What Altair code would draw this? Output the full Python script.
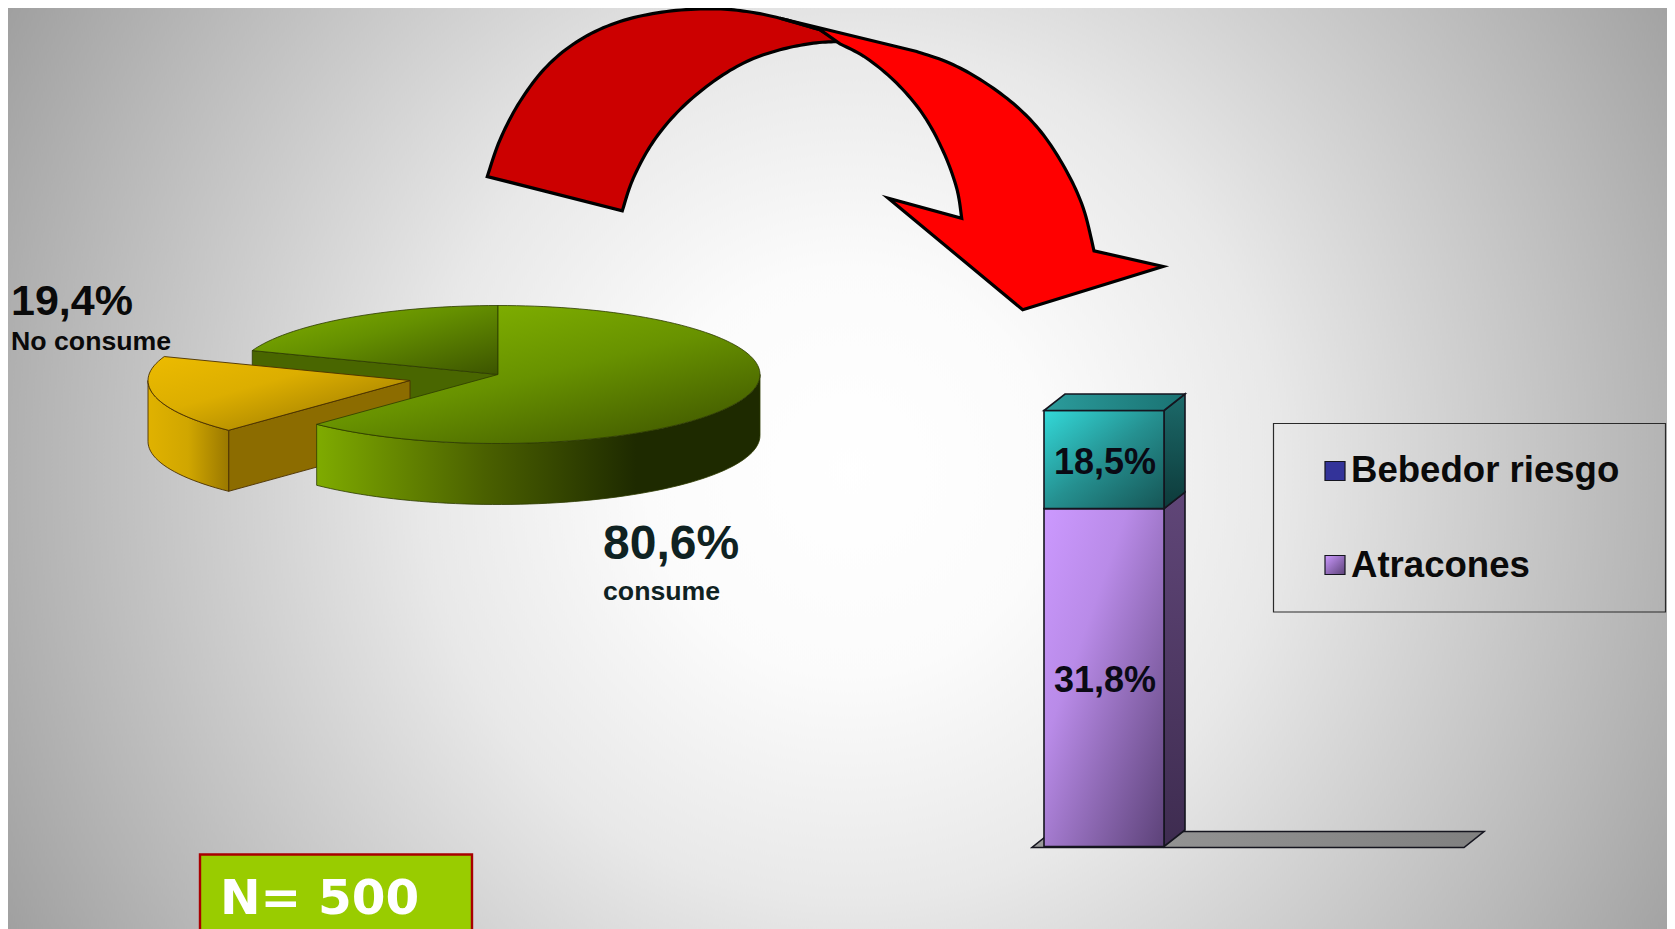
import math
import altair as alt

W, H, M = 1675, 929, 8
Y_NUDGE = 1.5

# ---- values
pie_shares = [80.6, 19.4]
pie_cut_deg = [290.3, 223.8]        # where the drawn gap opens and closes, clockwise from 12 o'clock
pie_centre = (498, 373)
pie_rx, pie_ry, pie_depth = 262, 69, 61
explode = (-88, 6)

bar_plotted = [77.5, 22.5]          # share of the drawn column height
bar_left, bar_right, bar_base, bar_top = 1044, 1164, 845, 409
bar_dx, bar_dy = 21, -16.5
floor_x = [1032, 1464, 1484, 1052]
floor_y = [846, 846, 830, 830]

arrow_dark_inner = [(622.3, 209.3), (633.3, 176.7), (653.3, 140), (680, 108), (713.3, 80), (746.7, 60),
                    (780, 48.3), (813.3, 41.7), (839.3, 40)]
arrow_dark_outer = [(820, 28.3), (780, 16.7), (746.7, 10), (713.3, 7.3), (666.7, 10), (620, 20), (580, 38.3),
                    (546.7, 65), (520, 100), (500, 138.3), (487.3, 175)]
arrow_red_outer = [(916.7, 50), (950, 61.7), (983.3, 80), (1016.7, 105), (1043.3, 133.3), (1066.7, 170),
                   (1083.3, 206.7), (1094, 249.3)]
arrow_red_head = [(1163, 265), (1022.7, 308.3), (888.3, 196.7)]
arrow_red_inner = [(961.7, 216.7), (956.7, 186.7), (943.3, 150), (923.3, 113.3), (896.7, 81.7), (866.7, 56.7),
                   (840, 42.3)]

legend_box = (1273.5, 422, 1665.5, 610.5)
legend_swatches = [(1325, 460, 1345, 479), (1325, 554, 1345, 573)]
n_box = (200, 853, 472, 960)

text_x = [11, 11, 603, 603, 1105, 1105, 1351, 1351, 220]
text_y = [313, 348, 557, 598, 472, 690, 480, 575, 912]
text_s = ["19,4%", "No consume", "80,6%", "consume", "18,5%", "31,8%", "Bebedor riesgo", "Atracones", "N= 500"]
text_size = [43, 26.7, 48, 26.7, 36, 36, 36.6, 36.6, 48.5]
text_col = ["#0a0a0a", "#0a0a0a", "#0f2222", "#0f2222", "#0a0a14", "#0a0a14", "#0a0a0a", "#0a0a0a", "#ffffff"]
text_font = ["Liberation Sans"] * 8 + ["DejaVu Sans"]
text_anchor = ["left", "left", "left", "left", "center", "center", "left", "left", "left"]


# ---- helpers
def lin(stops, x1=0, y1=0, x2=1, y2=0):
    return {"gradient": "linear", "x1": x1, "y1": y1, "x2": x2, "y2": y2,
            "stops": [{"offset": o, "color": c} for o, c in stops]}


def smooth(pts, n=10):
    out = []
    p = [pts[0]] + list(pts) + [pts[-1]]
    for i in range(1, len(p) - 2):
        p0, p1, p2, p3 = p[i - 1], p[i], p[i + 1], p[i + 2]
        for k in range(n):
            t = k / n
            out.append(tuple(
                0.5 * (2 * p1[a] + (p2[a] - p0[a]) * t
                       + (2 * p0[a] - 5 * p1[a] + 4 * p2[a] - p3[a]) * t * t
                       + (3 * p1[a] - p0[a] - 3 * p2[a] + p3[a]) * t ** 3)
                for a in (0, 1)))
    out.append(pts[-1])
    return out


def poly(pts, **mark):
    ring = [list(p) for p in pts] + [list(pts[0])]
    feat = {"type": "Feature", "properties": {},
            "geometry": {"type": "Polygon", "coordinates": [ring]}}
    return alt.Chart(alt.Data(values=[feat])).mark_geoshape(**mark).project(
        type="identity", scale=1, translate=[-M, -M + Y_NUDGE])


def rect(x0, y0, x1, y1):
    return [(x0, y0), (x1, y0), (x1, y1), (x0, y1)]


def on_rim(deg, c):
    r = math.radians(deg)
    return (c[0] + pie_rx * math.sin(r), c[1] - pie_ry * math.cos(r))


def rim(a, b, c, step=2):
    n = max(2, int(abs(b - a) / step))
    return [on_rim(a + (b - a) * i / n, c) for i in range(n + 1)]


def down(pts):
    return [(x, y + pie_depth) for x, y in pts]


layers = []

# ---- background
S = 1000
bg_cx, bg_cy = 850, 470
layers.append(poly(rect(bg_cx - S, bg_cy - S, bg_cx + S, bg_cy + S), fill={
    "gradient": "radial", "x1": .5, "y1": .5, "r1": 0, "x2": .5, "y2": .5, "r2": .5,
    "stops": [{"offset": 0, "color": "#ffffff"}, {"offset": .2, "color": "#fbfbfb"},
              {"offset": .43, "color": "#e8e8e8"}, {"offset": .8, "color": "#b6b6b6"},
              {"offset": 1, "color": "#9a9a9a"}]}, strokeWidth=0))

# ---- arrow
black = dict(stroke="#000000", strokeWidth=3.2, strokeJoin="miter", strokeMiterLimit=12)
dark_pts = smooth(arrow_dark_inner) + smooth(arrow_dark_outer)
layers.append(poly(dark_pts, fill="#cc0000", **black))
red_pts = ([arrow_dark_outer[1]] + smooth(arrow_red_outer) + arrow_red_head
           + smooth(arrow_red_inner) + [arrow_dark_outer[0]])
layers.append(poly(red_pts, fill="#ff0000", **black))

# ---- pie
a_start, a_end = pie_cut_deg
gold_c = (pie_centre[0] + explode[0], pie_centre[1] + explode[1])
g_line = dict(stroke="#2c3a00", strokeWidth=0.8)
o_line = dict(stroke="#4a3000", strokeWidth=0.9)

# inner wall of the green pie behind the gap
wall = [on_rim(a_start, pie_centre), pie_centre]
layers.append(poly(wall + down(wall[::-1]), fill="#496600", **g_line))

# exploded slice
gold_wall = [gold_c, on_rim(a_end, gold_c)]
layers.append(poly(gold_wall + down(gold_wall[::-1]), fill="#8c6c00", **o_line))
gold_side = rim(a_end, 270, gold_c)
layers.append(poly(gold_side + down(gold_side[::-1]),
                   fill=lin([(0, "#e0b200"), (.5, "#d0a600"), (1, "#9a7800")]), **o_line))
layers.append(poly([gold_c] + rim(a_end, a_start, gold_c),
                   fill=lin([(0, "#ecbb00"), (.4, "#dcae00"), (1, "#8f7000")], 0, 0, 1, 1), **o_line))

# green pie
green_side = rim(90, a_end, pie_centre)
layers.append(poly(green_side + down(green_side[::-1]),
                   fill=lin([(0, "#7fab00"), (.38, "#4a6000"), (.72, "#1e2a00"), (1, "#1e2a00")]), **g_line))
layers.append(poly([pie_centre] + rim(a_start, 360, pie_centre),
                   fill=lin([(0, "#84b400"), (.45, "#659000"), (1, "#3c5400")], 0, 0, 1, 1), **g_line))
layers.append(poly([pie_centre] + rim(0, a_end, pie_centre),
                   fill=lin([(0, "#86b800"), (.5, "#689200"), (1, "#3e5400")], .1, 0, .9, 1), **g_line))

# ---- column
dark = dict(stroke="#15151f", strokeWidth=1.6)
layers.append(poly(list(zip(floor_x, floor_y)),
                   fill=lin([(0, "#9a9a9a"), (1, "#808080")]), **dark))
px = (bar_base - bar_top) / sum(bar_plotted)
y_mid = bar_base - bar_plotted[0] * px
side_fill = [lin([(0, "#604678"), (1, "#3e2c50")], 0, 0, 0, 1),
             lin([(0, "#1c6a6a"), (1, "#0d3a3a")], 0, 0, 0, 1)]
front_fill = [lin([(0, "#cc99ff"), (.35, "#b98be8"), (1, "#5c4278")], 0, 0, 1, 1),
              lin([(0, "#33d9d9"), (.5, "#259090"), (1, "#165555")], 0, 0, 1, 1)]
segs = [(bar_base, y_mid), (y_mid, bar_top)]
for (y0, y1), sf, ff in zip(segs, side_fill, front_fill):
    layers.append(poly([(bar_right, y0), (bar_right + bar_dx, y0 + bar_dy),
                        (bar_right + bar_dx, y1 + bar_dy), (bar_right, y1)], fill=sf, **dark))
    layers.append(poly(rect(bar_left, y1, bar_right, y0), fill=ff, **dark))
layers.append(poly([(bar_left, bar_top), (bar_right, bar_top),
                    (bar_right + bar_dx, bar_top + bar_dy), (bar_left + bar_dx, bar_top + bar_dy)],
                   fill=lin([(0, "#2b9c9c"), (1, "#1a7272")]), **dark))

# ---- legend frame and swatches
layers.append(poly(rect(*legend_box), fill="transparent", stroke="#2a2a2a", strokeWidth=1.2))
layers.append(poly(rect(*legend_swatches[0]), fill="#333399", stroke="#15151f", strokeWidth=1.2))
layers.append(poly(rect(*legend_swatches[1]),
                   fill=lin([(0, "#cc99ff"), (1, "#5c4278")], 0, 0, 1, 1), stroke="#15151f", strokeWidth=1.2))

# ---- N box
layers.append(poly(rect(*n_box), fill="#99cc00", stroke="#a80000", strokeWidth=2.4))

# ---- text
rows = [dict(x=x, y=y, s=s, size=z, col=c, font=f, anchor=a)
        for x, y, s, z, c, f, a in zip(text_x, text_y, text_s, text_size, text_col, text_font, text_anchor)]
for anchor in ("left", "center"):
    for font in ("Liberation Sans", "DejaVu Sans"):
        sub = [r for r in rows if r["anchor"] == anchor and r["font"] == font]
        if not sub:
            continue
        layers.append(
            alt.Chart(alt.Data(values=sub)).mark_text(
                font=font, fontWeight="bold", align=anchor, baseline="alphabetic"
            ).encode(
                longitude="x:Q", latitude="y:Q", text="s:N",
                size=alt.Size("size:Q", scale=None, legend=None),
                color=alt.Color("col:N", scale=None, legend=None),
            ).project(type="identity", scale=1, translate=[-M, -M + Y_NUDGE])
        )

chart = alt.layer(*layers).properties(
    width=W - 2 * M, height=H - M, padding=0, autosize=alt.AutoSizeParams(type="none"),
    background="#ffffff",
).configure_view(stroke=None)

chart.save("out.html", embed_options={"renderer": "svg", "actions": False})
